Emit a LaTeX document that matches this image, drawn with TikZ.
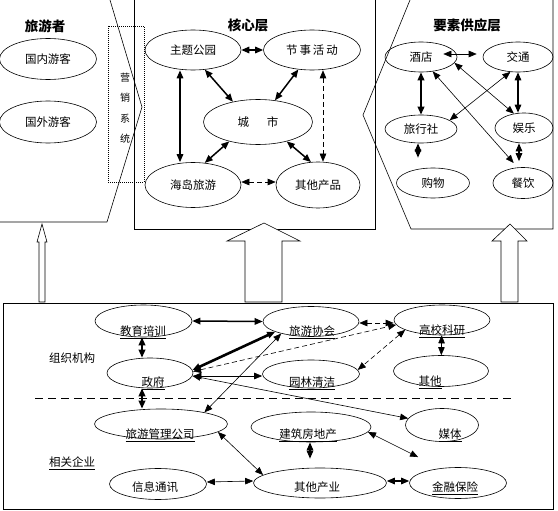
\documentclass[tikz,border=0pt]{standalone}
\usepackage{fontspec}
\setmainfont{Noto Sans CJK SC}
\usetikzlibrary{shapes.geometric,arrows.meta}

\tikzset{
  frame/.style={line width=0.6pt},
  oval/.style 2 args={ellipse, draw, line width=0.6pt, inner sep=0pt,
    minimum width=#1, minimum height=#2},
  lnk/.style={{Triangle[length=8pt,width=6.5pt]}-{Triangle[length=8pt,width=6.5pt]}},
  dlnk/.style={lnk, dash pattern=on 5pt off 3pt},
  txt/.style={inner sep=0pt, anchor=base},
  ttl/.style={font=\fontsize{13.5}{15}\selectfont\bfseries},
  bigarrow/.style={frame, fill=white},
}

\begin{document}
\begin{tikzpicture}[x=1pt, y=-1pt, font=\fontsize{11.5}{13}\selectfont]
      \useasboundingbox (0,0) rectangle (558,511);

      % panels
      \draw[frame] (110,0) -- (142,107) -- (107,222) -- (0,222);
      \draw[frame] (134,0) -- (134,229) -- (375,229) -- (375,0);
      \draw[frame] (410,0) -- (363,115) -- (411,229) -- (553,229) -- (553,0);
      \draw[frame] (3,303) rectangle (553,509);
      \draw[frame, dash pattern=on 1pt off 1pt] (108,26) rectangle (144,182);
      \draw[frame, dash pattern=on 8pt off 5pt] (35,398) -- (515,398);

      % up arrows
      \draw[bigarrow] (42,224) -- (47,242) -- (45,242) -- (45,302)
        -- (39,302) -- (39,242) -- (37,242) -- cycle;
      \draw[bigarrow] (264,223) -- (300,241) -- (282,241) -- (282,302)
        -- (245,302) -- (245,241) -- (227,241) -- cycle;
      \draw[bigarrow] (510,224) -- (527,241) -- (518,241) -- (518,302)
        -- (501,302) -- (501,241) -- (492,241) -- cycle;

      % tourists
      \node[ttl] (lyz) at (45,26) {旅游者};
      \node[oval={97pt}{41pt}] (gn) at (48,59) {国内游客};
      \node[oval={97pt}{42pt}] (gw) at (48,122) {国外游客};
      \node[align=center, font=\fontsize{10}{20.5}\selectfont] (yx) at (125,108)
        {营\\销\\系\\统};

      % core layer
      \node[ttl] (hxc) at (248,25) {核心层};
      \node[oval={96pt}{40pt}] (zt) at (193,50) {主题公园};
      \node[oval={97pt}{40pt}] (js) at (312,50) {节\,事\,活\,动};
      \node[oval={109pt}{45pt}] (cs) at (258,122) {城\hspace{18pt}市};
      \node[oval={96pt}{45pt}] (hd) at (193,185) {海岛旅游};
      \node[oval={84pt}{46pt}] (qc) at (318,185) {其他产品};

      \draw[lnk, line width=1.5pt] (zt.east) -- (js.west);
      \draw[lnk, line width=1.5pt] ([xshift=-13pt]zt.south) -- ([xshift=-13pt]hd.north);
      \draw[lnk, line width=1.5pt] (zt.-59) -- (cs.141);
      \draw[lnk, line width=1.5pt] (js.-125) -- (cs.52);
      \draw[lnk, line width=1.5pt] (cs.-146) -- (hd.62);
      \draw[lnk, line width=1.5pt] (cs.-34) -- (qc.107);
      \draw[dlnk, line width=0.6pt] ([xshift=11pt]js.south) -- ([xshift=5pt]qc.north);
      \draw[dlnk, line width=0.6pt] ([yshift=3pt]hd.east) -- ([yshift=3pt]qc.west);

      % supply layer
      \node[ttl] (ysc) at (467,25) {要素供应层};
      \node[oval={72pt}{30pt}] (jd) at (421,57) {酒店};
      \node[oval={70pt}{30pt}] (jt) at (518,57) {交通};
      \node[oval={72pt}{28pt}] (lx) at (421,129) {旅行社};
      \node[oval={58pt}{30pt}] (yl) at (524,128) {娱乐};
      \node[oval={73pt}{30pt}] (gwu) at (433,183) {购物};
      \node[oval={60pt}{31pt}] (cy) at (523,183) {餐饮};

      \draw[lnk, line width=0.6pt] ([xshift=-14pt,yshift=3pt]jd.east) -- ([xshift=-6pt,yshift=3pt]jt.west);
      \draw[lnk, line width=2pt] (jd.south) -- (lx.north);
      \draw[lnk, line width=1.2pt, shorten >=10pt] ([xshift=-3pt]lx.south) -- ([xshift=-15pt]gwu.north);
      \draw[lnk, line width=1.2pt] (jt.south) -- ([xshift=-6pt]yl.north);
      \draw[lnk, line width=0.6pt] (jt.-117) -- (lx.17);
      \draw[lnk, line width=0.6pt] (jd.-10) -- (yl.125);
      \draw[lnk, line width=0.6pt, shorten >=6pt] (jd.-51) -- (cy.109);
      \draw[lnk, line width=1.2pt, shorten >=6pt] ([xshift=-5pt]yl.south) -- ([xshift=-4pt]cy.north);

      % organisations and firms
      \node[txt] (zz) at (72,362.5) {组织机构};
      \node[txt] (xg) at (72,466.5) {\underline{相关企业}};

      \node[oval={97pt}{32pt}] (jy) at (143.5,321) {};
      \node[oval={86pt}{30pt}] (zf) at (150,373) {};
      \node[oval={133pt}{30pt}] (gl) at (161,424) {};
      \node[oval={97pt}{31pt}] (xx) at (158,484) {};
      \node[oval={96pt}{30pt}] (xh) at (311,321.5) {};
      \node[oval={97pt}{28pt}] (yq) at (311,374) {};
      \node[oval={120pt}{30pt}] (jz) at (311,427) {};
      \node[oval={133pt}{30pt}] (qy) at (320,483) {};
      \node[oval={96pt}{30pt}] (gx) at (442,320) {};
      \node[oval={95pt}{31pt}] (qt) at (441,371) {};
      \node[oval={73pt}{33pt}] (mt) at (442,425) {};
      \node[oval={97pt}{31pt}] (jr) at (458,483) {};

      \node[txt] (jy-t) at (143,335.5) {\underline{教育培训}};
      \node[txt] (zf-t) at (153,386.5) {\underline{政府}};
      \node[txt] (gl-t) at (160,438.5) {\underline{旅游管理公司}};
      \node[txt] (xx-t) at (155,491.5) {信息通讯};
      \node[txt] (xh-t) at (312,335.5) {\underline{旅游协会}};
      \node[txt] (yq-t) at (312,386.5) {\underline{园林清洁}};
      \node[txt] (jz-t) at (308,438.5) {\underline{建筑房地产}};
      \node[txt] (qy-t) at (317,491.5) {其他产业};
      \node[txt] (gx-t) at (442,334.5) {\underline{高校科研}};
      \node[txt] (qt-t) at (430,385.5) {\underline{其他}};
      \node[txt] (mt-t) at (450,438.5) {\underline{媒体}};
      \node[txt] (jr-t) at (455,491.5) {\underline{金融保险}};

      \draw[lnk, line width=1.5pt] (jy.east) -- (xh.west);
      \draw[lnk, line width=2pt] ([xshift=-1.5pt]jy.south) -- ([xshift=-8pt]zf.north);
      \draw[lnk, line width=2pt] ([xshift=-8pt]zf.south) -- ([xshift=-19pt]gl.north);
      \draw[lnk, line width=2.6pt] (zf.4) -- (xh.-164);
      \draw[dlnk, line width=0.6pt] (zf.2) -- (gx.-174);
      \draw[dlnk, line width=0.6pt] ([yshift=-1.5pt]xh.east) -- ([yshift=-3pt]gx.west);
      \draw[dlnk, line width=0.6pt] (gx.-165) -- (yq.5);
      \draw[dlnk, line width=0.6pt] (gx) -- (qt);
      \draw[lnk, line width=0.6pt] ([yshift=-3pt]zf.east) -- ([yshift=-2pt]yq.west);
      \draw[lnk, line width=0.6pt] (zf.-4) -- (mt.169);
      \draw[lnk, line width=0.6pt] (xh.-158) -- (gl.15);
      \draw[lnk, line width=0.6pt] (gl.-8) -- (qy.172);
      \draw[lnk, line width=0.6pt] ([yshift=2pt]xx.east) -- ([yshift=2pt]qy.west);
      \draw[lnk, line width=1.2pt, shorten >=9pt] ([xshift=-1pt]jz.south) -- ([xshift=-10pt]qy.north);
      \draw[lnk, line width=0.6pt, shorten >=25pt] (jz.-5) -- (jr.140);
      \draw[lnk, line width=1.2pt] ([yshift=2pt]qy.east) -- ([yshift=2pt]jr.west);
    \end{tikzpicture}
\end{document}
